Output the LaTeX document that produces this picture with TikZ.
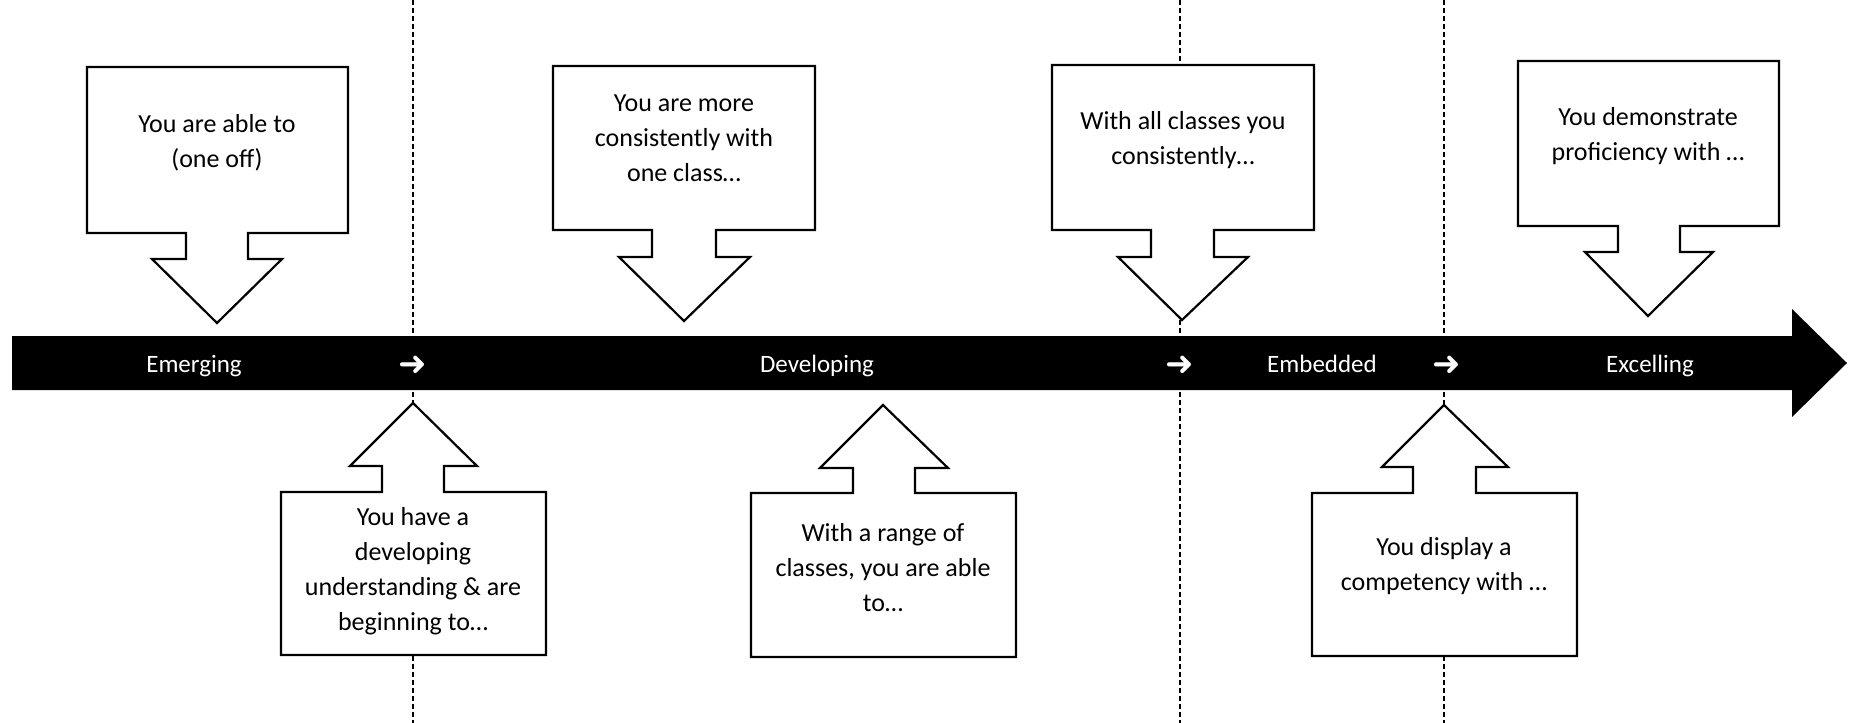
\documentclass[tikz,border=0pt]{standalone}
\usepackage{fontspec}
\setmainfont{Carlito}
\newfontfamily\symfont{DejaVu Sans}
\usepackage{tikz}

\begin{document}
\begin{tikzpicture}[x=1pt, y=-1pt,
  callout/.style={draw, line width=2.2pt, fill=white, line join=miter},
  divider/.style={line width=2.4pt, dash pattern=on 5pt off 3pt},
  boxtext/.style={align=center, inner sep=0pt, font=\fontsize{26}{35}\selectfont},
  bartext/.style={text=white, inner sep=0pt, anchor=base, font=\fontsize{25}{30}\selectfont},
  steparrow/.style={text=white, inner sep=0pt, font=\symfont\bfseries\fontsize{34}{36}\selectfont}]

\useasboundingbox (0,0) rectangle (1856,723);
\fill[white] (0,0) rectangle (1856,723);

% Dashed dividers between the stages
\coordinate (d1top) at (413,0);    \coordinate (d1bot) at (413,723);
\coordinate (d2top) at (1180,0);   \coordinate (d2bot) at (1180,723);
\coordinate (d3top) at (1444,0);   \coordinate (d3bot) at (1444,723);
\draw[divider] (d1top) -- (d1bot);
\draw[divider] (d2top) -- (d2bot);
\draw[divider] (d3top) -- (d3bot);

% Black timeline arrow
\fill (12,336) -- (1792,336) -- (1792,309) -- (1847,363)
  -- (1792,417) -- (1792,390) -- (12,390) -- cycle;

% Stage labels on the bar
\node[bartext] (emerging) at (194,372) {Emerging};
\node[steparrow] (stepa) at (413,366) {➜};
\node[bartext] (developing) at (817,372) {Developing};
\node[steparrow] (stepb) at (1180,366) {➜};
\node[bartext] (embedded) at (1322,372) {Embedded};
\node[steparrow] (stepc) at (1447,366) {➜};
\node[bartext] (excelling) at (1650,372) {Excelling};

% Callouts above the bar (pointing down)
\draw[callout] (87,67) -- (348,67) -- (348,233) -- (248,233) -- (248,259)
  -- (282,259) -- (217,323) -- (152,259) -- (186,259) -- (186,233)
  -- (87,233) -- cycle;
\draw[callout] (553,66) -- (815,66) -- (815,230) -- (716,230) -- (716,257)
  -- (750,257) -- (684,321) -- (619,257) -- (652,257) -- (652,230)
  -- (553,230) -- cycle;
\draw[callout] (1052,65) -- (1314,65) -- (1314,230) -- (1214,230) -- (1214,257)
  -- (1248,257) -- (1182,320) -- (1118,257) -- (1151,257) -- (1151,230)
  -- (1052,230) -- cycle;
\draw[callout] (1518,61) -- (1779,61) -- (1779,226) -- (1680,226) -- (1680,252)
  -- (1713,252) -- (1648,316) -- (1585,252) -- (1618,252) -- (1618,226)
  -- (1518,226) -- cycle;

% Callouts below the bar (pointing up)
\draw[callout] (281,655) -- (281,492) -- (382,492) -- (382,466) -- (350,466)
  -- (413,403) -- (477,466) -- (444,466) -- (444,492) -- (546,492)
  -- (546,655) -- cycle;
\draw[callout] (751,657) -- (751,493) -- (853,493) -- (853,468) -- (820,468)
  -- (883,405) -- (948,468) -- (915,468) -- (915,493) -- (1016,493)
  -- (1016,657) -- cycle;
\draw[callout] (1312,656) -- (1312,493) -- (1413,493) -- (1413,467) -- (1382,467)
  -- (1444,405) -- (1508,467) -- (1476,467) -- (1476,493) -- (1577,493)
  -- (1577,656) -- cycle;

% Texts in the callouts
\node[boxtext] (oneoff) at (217,143) {You are able to\\(one off)};
\node[boxtext] (oneclass) at (684,138) {You are more\\consistently with\\one class…};
\node[boxtext] (allclasses) at (1183,140) {With all classes you\\consistently…};
\node[boxtext] (proficiency) at (1648,136) {You demonstrate\\proficiency with …};
\node[boxtext] (beginning) at (413,571) {You have a\\developing\\understanding \& are\\beginning to…};
\node[boxtext] (range) at (883,568) {With a range of\\classes, you are able\\to…};
\node[boxtext] (competency) at (1444,566) {You display a\\competency with …};

\end{tikzpicture}
\end{document}
